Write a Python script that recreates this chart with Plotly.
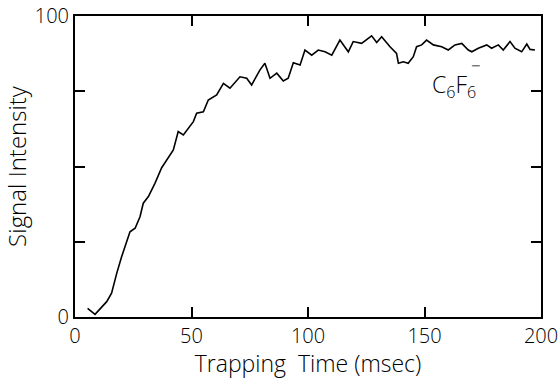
import plotly.graph_objects as go

time_ms = [5.4, 8.6, 13.6, 15.7, 17.9, 20.0, 23.6, 25.8, 27.9, 29.3, 31.5, 34.3, 37.2, 41.5,
           42.2, 44.3, 46.5, 50.8, 52.2, 55.1, 57.2, 60.8, 63.7, 66.5, 70.8, 73.7, 75.8, 79.4,
           81.5, 83.7, 86.6, 89.4, 91.5, 93.7, 96.6, 98.7, 101.6, 104.4, 107.3, 110.2, 113.7,
           117.3, 119.4, 123.0, 127.3, 129.5, 131.6, 135.2, 138.0, 138.8, 140.9, 143.0, 145.2,
           146.6, 148.8, 150.9, 153.8, 157.4, 160.2, 163.1, 166.0, 168.8, 170.3, 173.1, 176.7,
           178.8, 181.7, 183.8, 186.7, 188.8, 191.7, 193.9, 195.3, 197.4]
signal = [2.9, 0.9, 5.1, 7.9, 14.5, 20.0, 28.3, 29.5, 33.3, 37.8, 40.0, 44.4, 49.6, 54.9,
          55.5, 61.6, 60.5, 64.9, 67.7, 68.2, 72.1, 73.8, 77.6, 76.0, 79.8, 79.3, 77.1, 82.1,
          84.3, 79.3, 81.0, 78.4, 79.3, 84.5, 83.7, 88.7, 87.0, 88.7, 88.1, 87.0, 92.0,
          88.1, 91.5, 90.9, 93.4, 91.2, 93.1, 89.8, 87.6, 84.3, 84.8, 84.3, 86.5,
          89.8, 90.4, 92.0, 90.4, 89.8, 88.7, 90.4, 90.9, 88.7, 88.1, 89.3, 90.4,
          89.3, 90.4, 88.7, 91.5, 89.3, 88.1, 90.7, 88.9, 88.7]

x_ticks = [0, 50, 100, 150, 200]
y_ticks = [0, 100]
y_minor_ticks = [25, 50, 75]

FONT = "'Open Sans', 'DejaVu Sans', sans-serif"
INK = "#000000"

fig = go.Figure()
fig.add_trace(go.Scatter(x=time_ms, y=signal, mode="lines",
                         line=dict(color="black", width=1.6), showlegend=False))

fig.add_annotation(x=162.5, y=77, text="C<sub>6</sub>F<sub>6</sub>", showarrow=False,
                   font=dict(family=FONT, size=23, color=INK, weight=300))
fig.add_annotation(x=172.3, y=83.5, text="−", showarrow=False,
                   font=dict(family=FONT, size=17, color=INK, weight=300))

axis_common = dict(showline=True, linecolor="black", linewidth=2, mirror="ticks",
                   ticks="inside", ticklen=10, tickwidth=2, tickcolor="black",
                   showgrid=False, zeroline=False, automargin=False,
                   ticklabeloverflow="allow",
                   tickfont=dict(family=FONT, size=20, color=INK, weight=300))

fig.update_xaxes(range=[0, 200], tickvals=x_ticks, ticktext=[str(v) for v in x_ticks],
                 title=dict(text="Trapping  Time (msec)", standoff=3,
                            font=dict(family=FONT, size=23, color=INK, weight=300)),
                 **axis_common)
fig.update_yaxes(range=[0, 100], tickvals=y_ticks, ticktext=[str(v) for v in y_ticks],
                 minor=dict(tickvals=y_minor_ticks, ticks="inside", ticklen=10,
                            tickwidth=2, tickcolor="black", showgrid=False),
                 title=dict(text="Signal Intensity", standoff=2,
                            font=dict(family=FONT, size=24, color=INK, weight=300)),
                 **axis_common)

fig.update_layout(width=558, height=379, margin=dict(l=75, r=17, t=16, b=62),
                  paper_bgcolor="white", plot_bgcolor="white")

fig.write_html("out.html", config={"displayModeBar": False},
               post_script="document.body.style.margin='0';document.body.style.padding='0';"
                           "document.documentElement.style.overflow='hidden';")
